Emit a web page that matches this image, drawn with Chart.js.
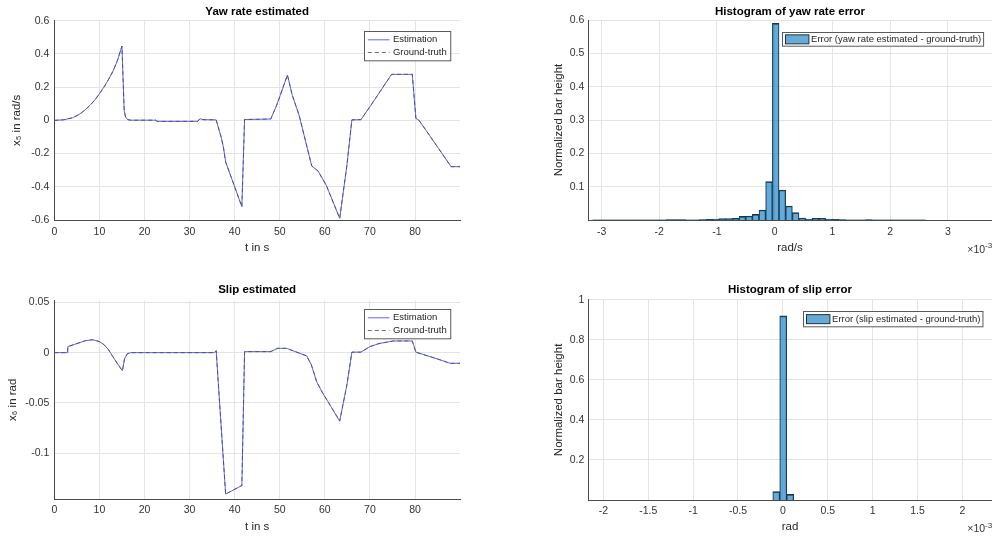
<!DOCTYPE html>
<html>
<head>
<meta charset="utf-8">
<title>Yaw rate and slip estimation</title>
<script src="https://cdn.jsdelivr.net/npm/chart.js@4/dist/chart.umd.min.js"></script>
<style>
  html, body { margin: 0; padding: 0; background: #fff; }
  #wrap { position: relative; width: 994px; height: 537px; overflow: hidden; background: #fff; }
  #wrap canvas { position: absolute; }
</style>
</head>
<body>
<div id="wrap">
  <canvas id="yawChart" width="470" height="270" style="left:0;top:0"></canvas>
  <canvas id="yawHist" width="454" height="270" style="left:540px;top:0"></canvas>
  <canvas id="slipChart" width="470" height="267" style="left:0;top:270px"></canvas>
  <canvas id="slipHist" width="454" height="267" style="left:540px;top:270px"></canvas>
</div>
<script>
// ---------- data ----------
// yaw rate x5 [rad/s] over time [s]
const yawTime  = [0, 2, 4, 5, 6, 7, 8, 9, 10, 11, 12, 13, 14, 15, 15.5, 15.8, 16.3, 17, 22.5, 22.8, 31.8, 32.3, 33, 35.9, 37, 37.5, 38, 41.6, 42.2, 48, 49.3, 50.1, 51.7, 52.8, 54.3, 57.1, 58.5, 60.3, 63.3, 64.9, 66, 68, 70, 74.8, 79.4, 80.2, 80.9, 85.2, 88, 90];
const yawEst   = [0, 0.003, 0.015, 0.028, 0.045, 0.067, 0.093, 0.123, 0.16, 0.2, 0.245, 0.295, 0.36, 0.447, 0.06, 0.02, 0.004, 0.001, 0.001, -0.006, -0.006, 0.01, 0.004, 0.003, -0.1, -0.16, -0.25, -0.52, 0.005, 0.008, 0.09, 0.15, 0.273, 0.15, 0.03, -0.275, -0.305, -0.39, -0.59, -0.27, 0.003, 0.004, 0.082, 0.277, 0.277, 0.012, 0.0, -0.168, -0.279, -0.279];
const yawTruth = [0, 0.003, 0.015, 0.028, 0.045, 0.067, 0.093, 0.123, 0.16, 0.2, 0.245, 0.295, 0.36, 0.447, 0.06, 0.02, 0.004, 0.001, 0.001, -0.006, -0.006, 0.01, 0.004, 0.003, -0.1, -0.16, -0.25, -0.52, 0.005, 0.008, 0.09, 0.15, 0.273, 0.15, 0.03, -0.275, -0.305, -0.39, -0.59, -0.27, 0.003, 0.004, 0.082, 0.277, 0.277, 0.012, 0.0, -0.168, -0.279, -0.279];

// slip x6 [rad] over time [s]
const slipTime  = [0, 2.9, 3.0, 5, 7, 8.5, 10, 11, 12, 13, 14, 15.1, 15.6, 16.2, 17, 35.5, 35.9, 38.0, 41.6, 42.2, 48, 49.5, 51.5, 56, 57, 58.2, 59.5, 60.2, 63.3, 64.9, 66, 68, 70, 72, 75.2, 79.4, 80.2, 85.2, 87.8, 90];
const slipEst   = [0, 0, 0.006, 0.009, 0.012, 0.0128, 0.011, 0.008, 0.003, -0.004, -0.011, -0.018, -0.006, -0.001, 0, 0, 0.002, -0.1405, -0.132, 0.001, 0.001, 0.0043, 0.0043, -0.0033, -0.012, -0.029, -0.04, -0.045, -0.068, -0.032, 0.0005, 0.0005, 0.006, 0.009, 0.0116, 0.0116, 0.0005, -0.0066, -0.0106, -0.0106];
const slipTruth = [0, 0, 0.006, 0.009, 0.012, 0.0128, 0.011, 0.008, 0.003, -0.004, -0.011, -0.018, -0.006, -0.001, 0, 0, 0.002, -0.1405, -0.132, 0.001, 0.001, 0.0043, 0.0043, -0.0033, -0.012, -0.029, -0.04, -0.045, -0.068, -0.032, 0.0005, 0.0005, 0.006, 0.009, 0.0116, 0.0116, 0.0005, -0.0066, -0.0106, -0.0106];

// yaw rate error histogram: bin centres [1e-3 rad/s] and normalized heights
const yawBinCenters = [-3.099, -2.984, -2.868, -2.753, -2.638, -2.522, -2.407, -2.291, -2.176, -2.061, -1.945, -1.830, -1.714, -1.599, -1.484, -1.368, -1.253, -1.137, -1.022, -0.907, -0.791, -0.676, -0.560, -0.445, -0.330, -0.214, -0.099, 0.017, 0.132, 0.248, 0.363, 0.478, 0.594, 0.709, 0.825, 0.940, 1.055, 1.171, 1.286, 1.402, 1.517, 1.632, 1.748, 1.863, 1.979, 2.094, 2.209, 2.325, 2.440, 2.556];
const yawBinHeights = [0.0004, 0.0003, 0.0003, 0.0003, 0.0003, 0.0003, 0.0003, 0.0003, 0.0004, 0.0005, 0.0006, 0.001, 0.001, 0.001, 0.0005, 0.0004, 0.001, 0.002, 0.003, 0.004, 0.004, 0.005, 0.011, 0.012, 0.017, 0.030, 0.115, 0.590, 0.090, 0.042, 0.022, 0.006, 0.003, 0.005, 0.005, 0.003, 0.002, 0.001, 0.0008, 0.0004, 0.0005, 0.001, 0.0004, 0.0003, 0.0003, 0.0003, 0.0003, 0.0003, 0.0003, 0.0003];

// slip error histogram: bin centres [1e-3 rad] and normalized heights
const slipBinCenters = [-0.0735, 0.004, 0.0815];
const slipBinHeights = [0.042, 0.92, 0.028];

// axis ranges and tick values
const timeRange = [0, 89.98];
const timeTickValues = [0, 10, 20, 30, 40, 50, 60, 70, 80];
const yawRange = [-0.6, 0.6];
const yawTickValues = [-0.6, -0.4, -0.2, 0, 0.2, 0.4, 0.6];
const slipRange = [-0.1457, 0.052];
const slipTickValues = [-0.1, -0.05, 0, 0.05];
const yawHistXRange = [-3.23, 3.76];
const yawHistXTicks = [-3, -2, -1, 0, 1, 2, 3];
const yawHistYRange = [0, 0.6];
const yawHistYTicks = [0.1, 0.2, 0.3, 0.4, 0.5, 0.6];
const slipHistXRange = [-2.168, 2.327];
const slipHistXTicks = [-2, -1.5, -1, -0.5, 0, 0.5, 1, 1.5, 2];
const slipHistYRange = [0, 1];
const slipHistYTicks = [0.2, 0.4, 0.6, 0.8, 1];

// ---------- styling ----------
const FONT = '"Liberation Sans", Arial, Helvetica, sans-serif';
Chart.defaults.font.family = FONT;
Chart.defaults.color = '#333333';
Chart.defaults.animation = false;

const GRID = '#e4e4e4';
const AXIS = '#4a4a4a';
const TEXT = '#262626';

function pairs(xs, ys) { return xs.map((x, i) => ({ x: x, y: ys[i] })); }
function fmt(v) { return String(+Number(v).toFixed(6)); }

// legend drawn inside the plot area, in a framed box at the upper right
const boxedLegend = {
  id: 'boxedLegend',
  afterDraw(chart, args, o) {
    if (!o || !o.display) return;
    const ctx = chart.ctx, a = chart.chartArea;
    const sets = chart.data.datasets;
    ctx.save();
    ctx.font = o.fontSize + 'px ' + FONT;
    const tw = Math.max.apply(null, sets.map(d => ctx.measureText(d.label).width));
    const w = o.textX + tw + o.padRight;
    const h = o.rowH * sets.length + o.padV * 2;
    const x0 = Math.round(a.right - o.right - w) + 0.5;
    const y0 = Math.round(a.top + o.top) + 0.5;
    ctx.fillStyle = '#ffffff';
    ctx.fillRect(x0, y0, w, h);
    ctx.strokeStyle = '#5a5a5a';
    ctx.lineWidth = 1;
    ctx.setLineDash([]);
    ctx.strokeRect(x0, y0, w, h);
    sets.forEach((d, i) => {
      const cy = y0 + o.padV + o.rowH * (i + 0.5);
      if (o.kind === 'line') {
        ctx.save();
        ctx.strokeStyle = d.borderColor;
        ctx.lineWidth = d.borderWidth;
        ctx.setLineDash(d.borderDash || []);
        ctx.beginPath();
        ctx.moveTo(x0 + o.sampleX, cy);
        ctx.lineTo(x0 + o.sampleX + o.sampleW, cy);
        ctx.stroke();
        ctx.restore();
      } else {
        const ph = o.patchH;
        ctx.fillStyle = d.backgroundColor;
        ctx.fillRect(x0 + o.sampleX, cy - ph / 2, o.sampleW, ph);
        ctx.strokeStyle = d.borderColor;
        ctx.lineWidth = 1;
        ctx.strokeRect(x0 + o.sampleX, cy - ph / 2, o.sampleW, ph);
      }
      ctx.fillStyle = TEXT;
      ctx.textAlign = 'left';
      ctx.textBaseline = 'middle';
      ctx.fillText(d.label, x0 + o.textX, cy);
    });
    ctx.restore();
  }
};

// axis exponent label (x10^-3) below the right end of the x axis
const axisExponent = {
  id: 'axisExponent',
  afterDraw(chart, args, o) {
    if (!o || !o.display) return;
    const ctx = chart.ctx, a = chart.chartArea;
    ctx.save();
    ctx.fillStyle = '#333333';
    ctx.textBaseline = 'middle';
    ctx.textAlign = 'right';
    ctx.font = '8px ' + FONT;
    const supW = ctx.measureText(o.power).width;
    const xr = a.right + o.dx;
    ctx.fillText(o.power, xr, a.bottom + o.dy - 4);
    ctx.font = '10.5px ' + FONT;
    ctx.fillText('\u00d710', xr - supW, a.bottom + o.dy);
    ctx.restore();
  }
};

function fixSize(px) {
  return function (scale) {
    if (scale.isHorizontal()) scale.height = px; else scale.width = px;
  };
}

function numAxis(opts) {
  return {
    type: 'linear',
    position: opts.position,
    min: opts.range[0],
    max: opts.range[1],
    offset: false,
    afterBuildTicks: function (scale) { scale.ticks = opts.ticks.map(v => ({ value: v })); },
    afterFit: fixSize(opts.size),
    border: { display: true, color: AXIS, width: 1 },
    grid: { color: GRID, lineWidth: 1, drawTicks: false, offset: false },
    ticks: {
      padding: opts.tickPad,
      color: '#333333',
      font: { size: 10.5 },
      maxRotation: 0,
      minRotation: 0,
      autoSkip: false,
      callback: fmt
    },
    title: {
      display: true,
      text: opts.title,
      color: TEXT,
      font: { size: 11.5, lineHeight: 1.2 },
      padding: { top: opts.titlePad, bottom: opts.titlePad }
    }
  };
}

function titleOpts(text, top, bottom) {
  return {
    display: true,
    text: text,
    fullSize: false,
    color: '#000000',
    font: { size: 11.5, weight: 'bold', lineHeight: 1.2 },
    padding: { top: top, bottom: bottom }
  };
}

function lineChart(id, cfg) {
  return new Chart(document.getElementById(id), {
    type: 'line',
    data: {
      datasets: [
        { label: 'Estimation', data: pairs(cfg.time, cfg.est), borderColor: '#6262ff', borderWidth: 1,
          pointRadius: 0, tension: 0, fill: false, order: 1 },
        { label: 'Ground-truth', data: pairs(cfg.time, cfg.truth), borderColor: '#4a4a4a', borderWidth: 0.8,
          borderDash: [4, 3], pointRadius: 0, tension: 0, fill: false, order: 0 }
      ]
    },
    options: {
      responsive: false,
      devicePixelRatio: 1,
      layout: { padding: { left: 0, right: 10, top: 0, bottom: 0 } },
      plugins: {
        legend: { display: false },
        tooltip: { enabled: false },
        title: titleOpts(cfg.title, cfg.tTop, cfg.tBottom),
        boxedLegend: { display: true, kind: 'line', fontSize: 9.5, right: 10, top: cfg.legendTop,
          rowH: 12.7, padV: 1.95, sampleX: 3.3, sampleW: 21.7, textX: 28.4, padRight: 4 },
        axisExponent: { display: false }
      },
      scales: {
        x: numAxis({ position: 'bottom', range: timeRange, ticks: timeTickValues, size: cfg.xSize,
          tickPad: cfg.xTickPad, title: 't in s', titlePad: cfg.xTitlePad }),
        y: numAxis({ position: 'left', range: cfg.yRange, ticks: cfg.yTicks, size: 54.3, tickPad: 5,
          title: cfg.yTitle, titlePad: cfg.yTitlePad })
      }
    },
    plugins: [boxedLegend, axisExponent]
  });
}

function histChart(id, cfg) {
  return new Chart(document.getElementById(id), {
    type: 'bar',
    data: {
      datasets: [{
        label: cfg.label,
        data: pairs(cfg.centers, cfg.heights),
        backgroundColor: 'rgba(0,114,189,0.6)',
        borderColor: '#25313d',
        borderWidth: { top: 1, left: 0.6, right: 0.6, bottom: 0 },
        borderSkipped: 'start',
        barPercentage: 1,
        categoryPercentage: 1
      }]
    },
    options: {
      responsive: false,
      devicePixelRatio: 1,
      layout: { padding: { left: 0, right: 2.3, top: 0, bottom: 0 } },
      plugins: {
        legend: { display: false },
        tooltip: { enabled: false },
        title: titleOpts(cfg.title, cfg.tTop, cfg.tBottom),
        boxedLegend: { display: true, kind: 'patch', fontSize: 9.5, right: 9, top: cfg.legendTop,
          rowH: cfg.legendH, padV: 0, sampleX: 3, sampleW: 23.4, patchH: 9, textX: 28.6, padRight: 2.5 },
        axisExponent: { display: true, power: '-3', dx: 0.5, dy: cfg.expDy }
      },
      scales: {
        x: numAxis({ position: 'bottom', range: cfg.xRange, ticks: cfg.xTicks, size: cfg.xSize,
          tickPad: cfg.xTickPad, title: cfg.xTitle, titlePad: cfg.xTitlePad }),
        y: numAxis({ position: 'left', range: cfg.yRange, ticks: cfg.yTicks, size: 48.3, tickPad: 4,
          title: 'Normalized bar height', titlePad: 12.1 })
      }
    },
    plugins: [boxedLegend, axisExponent]
  });
}

lineChart('yawChart', {
  time: yawTime, est: yawEst, truth: yawTruth, title: 'Yaw rate estimated',
  yRange: yawRange, yTicks: yawTickValues, yTitle: 'x\u2085 in rad/s', yTitlePad: 10.3,
  tTop: 4.8, tBottom: 2.1, xSize: 50, xTickPad: 6, xTitlePad: 14.8, legendTop: 10
});

lineChart('slipChart', {
  time: slipTime, est: slipEst, truth: slipTruth, title: 'Slip estimated',
  yRange: slipRange, yTicks: slipTickValues, yTitle: 'x\u2086 in rad', yTitlePad: 5.8,
  tTop: 13.1, tBottom: 3.4, xSize: 37.7, xTickPad: 5, xTitlePad: 3.4, legendTop: 8.3
});

histChart('yawHist', {
  centers: yawBinCenters, heights: yawBinHeights, label: 'Error (yaw rate estimated - ground-truth)',
  title: 'Histogram of yaw rate error', xRange: yawHistXRange, xTicks: yawHistXTicks,
  yRange: yawHistYRange, yTicks: yawHistYTicks, xTitle: 'rad/s',
  tTop: 4.8, tBottom: 1.4, xSize: 50, xTickPad: 6, xTitlePad: 14.8, legendTop: 12.3, legendH: 13.7, expDy: 30
});

histChart('slipHist', {
  centers: slipBinCenters, heights: slipBinHeights, label: 'Error (slip estimated - ground-truth)',
  title: 'Histogram of slip error', xRange: slipHistXRange, xTicks: slipHistXTicks,
  yRange: slipHistYRange, yTicks: slipHistYTicks, xTitle: 'rad',
  tTop: 13.1, tBottom: 2.9, xSize: 37, xTickPad: 5, xTitlePad: 3.4, legendTop: 10.7, legendH: 15.3, expDy: 29.3
});
</script>
</body>
</html>
